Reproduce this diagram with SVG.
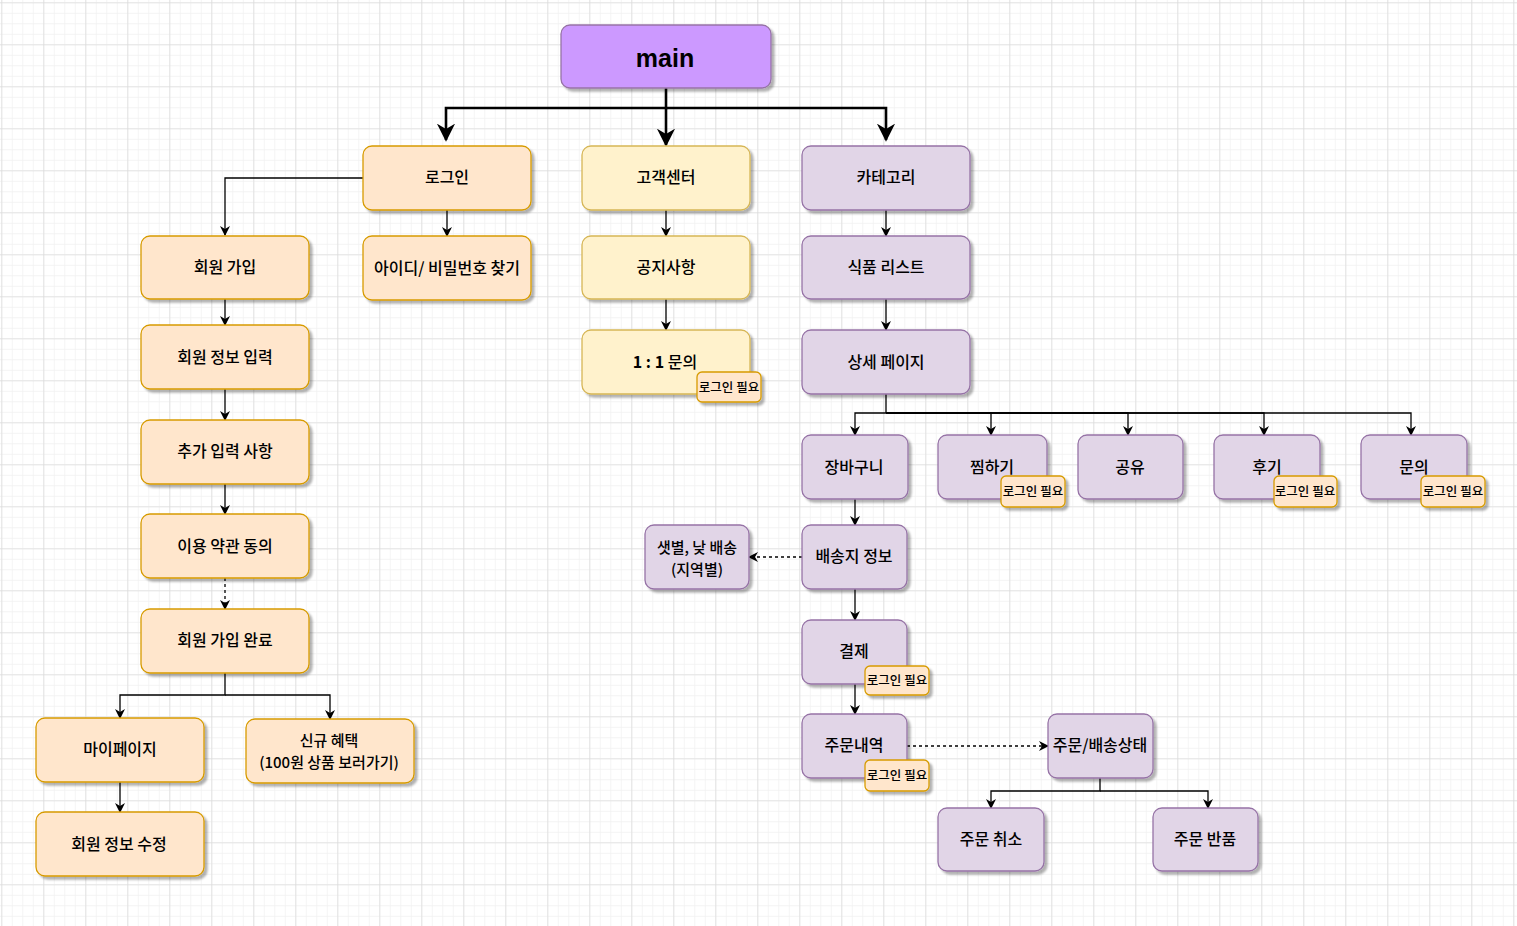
<svg xmlns="http://www.w3.org/2000/svg" width="1517" height="926" viewBox="0 0 1517 926">
<defs>
<pattern id="minor" x="1.3" y="2.3" width="10.5" height="10.5" patternUnits="userSpaceOnUse">
<path d="M0 0V10.5M0 0H10.5" stroke="#f0f0f0" stroke-width="1.4" fill="none"/>
</pattern>
<pattern id="major" x="1.3" y="2.3" width="42" height="42" patternUnits="userSpaceOnUse">
<path d="M0 0V42M0 0H42" stroke="#d6d6d6" stroke-width="1.2" fill="none"/>
</pattern>
<filter id="sh" x="-10%" y="-10%" width="130%" height="140%">
<feDropShadow dx="3" dy="3" stdDeviation="1" flood-color="#000" flood-opacity="0.3"/>
</filter>
<marker id="ar" viewBox="0 0 10 10" refX="9" refY="5" markerWidth="10" markerHeight="10" markerUnits="userSpaceOnUse" orient="auto">
<path d="M0 0L10 5L0 10L3 5Z" fill="#000"/>
</marker>
<marker id="arb" viewBox="0 0 10 10" refX="9" refY="5" markerWidth="7" markerHeight="7" orient="auto">
<path d="M0 0L10 5L0 10L3 5Z" fill="#000"/>
</marker>
</defs>
<style>
.o rect{fill:#ffe6cc;stroke:#d79b00;stroke-width:1.3;filter:url(#sh)}
.y rect{fill:#fff2cc;stroke:#d6b656;stroke-width:1.3;filter:url(#sh)}
.p rect{fill:#e1d5e7;stroke:#9673a6;stroke-width:1.3;filter:url(#sh)}
.b rect{fill:#ffe6cc;stroke:#d79b00;stroke-width:1.3;filter:url(#sh)}
text{font-family:"Noto Sans CJK KR","Noto Sans",sans-serif;font-size:16px;font-weight:500;fill:#000;text-anchor:middle;dominant-baseline:central}
.b text{font-size:12.5px}
.m text{font-size:15px}
.c path{fill:none;stroke:#000;stroke-width:1.3}
.c .d{stroke-dasharray:3 3}
.c .t{stroke-width:2.6}
</style>
<rect width="1517" height="926" fill="#fff"/>
<rect width="1517" height="926" fill="url(#minor)"/>
<rect width="1517" height="926" fill="url(#major)"/>

<g id="connectors" class="c">
<path class="t" d="M666 88V108H446V140" marker-end="url(#arb)"/>
<path class="t" d="M666 108V145" marker-end="url(#arb)"/>
<path class="t" d="M666 108H886V140" marker-end="url(#arb)"/>
<path d="M363 178H225V235" marker-end="url(#ar)"/>
<path d="M447 210V236" marker-end="url(#ar)"/>
<path d="M666 210V236" marker-end="url(#ar)"/>
<path d="M666 299V330" marker-end="url(#ar)"/>
<path d="M886 210V236" marker-end="url(#ar)"/>
<path d="M886 299V330" marker-end="url(#ar)"/>
<path d="M225 299V325" marker-end="url(#ar)"/>
<path d="M225 389V420" marker-end="url(#ar)"/>
<path d="M225 484V514" marker-end="url(#ar)"/>
<path class="d" d="M225 578V609" marker-end="url(#ar)"/>
<path d="M225 673V695H120V718" marker-end="url(#ar)"/>
<path d="M225 695H330V719" marker-end="url(#ar)"/>
<path d="M120 782V812" marker-end="url(#ar)"/>
<path d="M886 394V413H855V435" marker-end="url(#ar)"/>
<path d="M886 413H991V435" marker-end="url(#ar)"/>
<path d="M886 413H1128V435" marker-end="url(#ar)"/>
<path d="M886 413H1264V435" marker-end="url(#ar)"/>
<path d="M886 413H1411V435" marker-end="url(#ar)"/>
<path d="M855 499V525" marker-end="url(#ar)"/>
<path class="d" d="M802 557H749" marker-end="url(#ar)"/>
<path d="M855 589V620" marker-end="url(#ar)"/>
<path d="M855 684V714" marker-end="url(#ar)"/>
<path class="d" d="M907 746H1048" marker-end="url(#ar)"/>
<path d="M1100 778V791H991V808" marker-end="url(#ar)"/>
<path d="M1100 791H1208V808" marker-end="url(#ar)"/>
</g>

<g id="main"><rect x="561" y="25" width="210" height="63" rx="9" fill="#cc99ff" stroke="#9673a6" stroke-width="1.3" filter="url(#sh)"/><text x="665" y="58" style="font-size:25px;font-weight:bold;font-family:'Liberation Sans','Noto Sans',sans-serif">main</text></g>
<g id="login" class="o"><rect x="363" y="146" width="168" height="64" rx="9"/><text x="447" y="176">로그인</text></g>
<g id="cs" class="y"><rect x="582" y="146" width="168" height="64" rx="9"/><text x="666" y="176">고객센터</text></g>
<g id="category" class="p"><rect x="802" y="146" width="168" height="64" rx="9"/><text x="886" y="176">카테고리</text></g>
<g id="signup" class="o"><rect x="141" y="236" width="168" height="63" rx="9"/><text x="225" y="266">회원 가입</text></g>
<g id="findid" class="o"><rect x="363" y="236" width="168" height="64" rx="9"/><text x="447" y="267">아이디/ 비밀번호 찾기</text></g>
<g id="notice" class="y"><rect x="582" y="236" width="168" height="63" rx="9"/><text x="666" y="266">공지사항</text></g>
<g id="foodlist" class="p"><rect x="802" y="236" width="168" height="63" rx="9"/><text x="886" y="266">식품 리스트</text></g>
<g id="info" class="o"><rect x="141" y="325" width="168" height="64" rx="9"/><text x="225" y="356">회원 정보 입력</text></g>
<g id="qna" class="y"><rect x="582" y="330" width="168" height="64" rx="9"/><text x="665" y="361"><tspan font-weight="bold">1 : 1</tspan> 문의</text></g>
<g id="qna-badge" class="b"><rect x="697" y="372" width="64" height="30" rx="5"/><text x="729" y="386">로그인 필요</text></g>
<g id="detail" class="p"><rect x="802" y="330" width="168" height="64" rx="9"/><text x="886" y="361">상세 페이지</text></g>
<g id="extra" class="o"><rect x="141" y="420" width="168" height="64" rx="9"/><text x="225" y="450">추가 입력 사항</text></g>
<g id="cart" class="p"><rect x="802" y="435" width="106" height="64" rx="9"/><text x="854" y="466">장바구니</text></g>
<g id="wish" class="p"><rect x="938" y="435" width="109" height="64" rx="9"/><text x="992" y="466">찜하기</text></g>
<g id="wish-badge" class="b"><rect x="1001" y="476" width="64" height="31" rx="5"/><text x="1033" y="490">로그인 필요</text></g>
<g id="share" class="p"><rect x="1078" y="435" width="105" height="64" rx="9"/><text x="1130" y="466">공유</text></g>
<g id="review" class="p"><rect x="1214" y="435" width="106" height="64" rx="9"/><text x="1267" y="466">후기</text></g>
<g id="review-badge" class="b"><rect x="1274" y="476" width="63" height="31" rx="5"/><text x="1305" y="490">로그인 필요</text></g>
<g id="inquiry" class="p"><rect x="1361" y="435" width="106" height="64" rx="9"/><text x="1414" y="466">문의</text></g>
<g id="inquiry-badge" class="b"><rect x="1421" y="476" width="64" height="31" rx="5"/><text x="1453" y="490">로그인 필요</text></g>
<g id="terms" class="o"><rect x="141" y="514" width="168" height="64" rx="9"/><text x="225" y="545">이용 약관 동의</text></g>
<g id="dawn" class="p m"><rect x="645" y="525" width="104" height="64" rx="9"/><text x="697" y="546">샛별, 낮 배송<tspan x="697" dy="22">(지역별)</tspan></text></g>
<g id="address" class="p"><rect x="802" y="525" width="105" height="64" rx="9"/><text x="854" y="555">배송지 정보</text></g>
<g id="done" class="o"><rect x="141" y="609" width="168" height="64" rx="9"/><text x="225" y="639">회원 가입 완료</text></g>
<g id="pay" class="p"><rect x="802" y="620" width="105" height="64" rx="9"/><text x="854" y="650">결제</text></g>
<g id="pay-badge" class="b"><rect x="865" y="666" width="64" height="29" rx="5"/><text x="897" y="679">로그인 필요</text></g>
<g id="mypage" class="o"><rect x="36" y="718" width="168" height="64" rx="9"/><text x="120" y="748">마이페이지</text></g>
<g id="benefit" class="o m"><rect x="246" y="719" width="168" height="64" rx="9"/><text x="329" y="739">신규 혜택<tspan x="329" dy="22">(100원 상품 보러가기)</tspan></text></g>
<g id="orders" class="p"><rect x="802" y="714" width="105" height="64" rx="9"/><text x="854" y="744">주문내역</text></g>
<g id="orders-badge" class="b"><rect x="865" y="760" width="64" height="31" rx="5"/><text x="897" y="774">로그인 필요</text></g>
<g id="status" class="p"><rect x="1048" y="714" width="105" height="64" rx="9"/><text x="1100" y="744">주문/배송상태</text></g>
<g id="editinfo" class="o"><rect x="36" y="812" width="168" height="64" rx="9"/><text x="119" y="843">회원 정보 수정</text></g>
<g id="cancel" class="p"><rect x="938" y="808" width="106" height="63" rx="9"/><text x="991" y="838">주문 취소</text></g>
<g id="return" class="p"><rect x="1153" y="808" width="105" height="63" rx="9"/><text x="1205" y="838">주문 반품</text></g>
</svg>
